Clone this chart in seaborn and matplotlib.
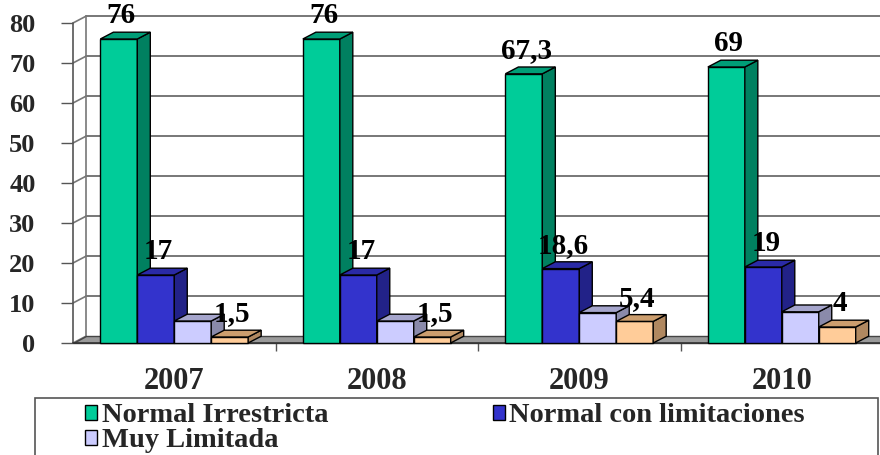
import numpy as np
import pandas as pd
import matplotlib
matplotlib.use("Agg")
import matplotlib.pyplot as plt
import seaborn as sns
from matplotlib.patches import Polygon, Rectangle, Patch

# Data
years = ["2007", "2008", "2009", "2010"]
series = ["Normal Irrestricta", "Normal con limitaciones", "Muy Limitada", "Limitada"]
normal_irrestricta = [76, 76, 67.3, 69]
normal_limitaciones = [17, 17, 18.6, 19]
muy_limitada = [5.5, 5.5, 7.6, 7.8]
limitada = [1.5, 1.5, 5.4, 4]
labelled = [True, True, False, True]

front = ["#00CC99", "#3333CC", "#CCCCFF", "#FFCC99"]
side = ["#008060", "#222288", "#8A8AAA", "#B08860"]
top = ["#009E77", "#2A2AA6", "#A5A5CC", "#CC9E6E"]

df = pd.DataFrame({
    "year": np.repeat(years, 4),
    "series": series * 4,
    "value": np.ravel(np.column_stack([normal_irrestricta, normal_limitaciones,
                                        muy_limitada, limitada])),
})

sns.set_theme(style="white")
plt.rcParams["font.family"] = ["Liberation Serif", "DejaVu Serif"]
plt.rcParams["font.weight"] = "bold"

fig = plt.figure(figsize=(8.8, 4.55), dpi=100)
ax = fig.add_axes([73 / 880, 112 / 455, 807 / 880, 320 / 455])

sns.barplot(data=df, x="year", y="value", hue="series", hue_order=series,
            palette=front, width=0.73, gap=0, edgecolor="black", linewidth=1,
            saturation=1, legend=False, ax=ax)

xmin, xmax = -0.5, 3.485
ax.set_xlim(xmin, xmax)
ax.set_ylim(0, 80)
dx, dy = 13 / 202.5, 1.7  # depth of the 3D effect, in data units

# back wall, floor and left wall
for v in range(10, 90, 10):
    ax.plot([xmin + dx, xmax], [v + dy, v + dy], color="#777777", lw=1.4,
            zorder=1, clip_on=False)
for v in range(0, 90, 10):
    ax.plot([xmin, xmin + dx], [v, v + dy], color="#777777", lw=1.2,
            zorder=1, clip_on=False)
ax.plot([xmin + dx, xmin + dx], [dy, 80 + dy], color="#777777", lw=1.2,
        zorder=1, clip_on=False)
ax.plot([xmin, xmin], [0, 80], color="#555555", lw=1.2, zorder=1, clip_on=False)
ax.add_patch(Polygon([(xmin, 0), (xmax + 0.1, 0), (xmax + 0.1, dy), (xmin + dx, dy)],
                     closed=True, facecolor="#9a9a9a", edgecolor="#444444",
                     lw=1, zorder=1.5, clip_on=False))
ax.plot([xmin, xmax], [0, 0], color="#333333", lw=1.2, zorder=1.6, clip_on=False)

# 3D sides, tops and value labels
for k, cont in enumerate(ax.containers):
    for p in cont.patches:
        x0, w, h = p.get_x(), p.get_width(), p.get_height()
        p.set_zorder(3 + 2 * k)
        p.set_clip_on(False)
        ax.add_patch(Polygon([(x0 + w, 0), (x0 + w + dx, dy), (x0 + w + dx, h + dy), (x0 + w, h)],
                             closed=True, facecolor=side[k], edgecolor="black",
                             lw=1, zorder=3.5 + 2 * k, clip_on=False))
        ax.add_patch(Polygon([(x0, h), (x0 + dx, h + dy), (x0 + w + dx, h + dy), (x0 + w, h)],
                             closed=True, facecolor=top[k], edgecolor="black",
                             lw=1, zorder=3.5 + 2 * k, clip_on=False))
        if labelled[k]:
            txt = f"{h:g}".replace(".", ",")
            ax.text(x0 + w / 2 + dx * 0.2, h + dy + 0.7, txt, ha="center", va="bottom",
                    fontsize=21, fontweight="bold", color="black", zorder=20,
                    clip_on=False)

ax.set_xlabel("")
ax.set_ylabel("")
ax.set_yticks(range(0, 90, 10))
ax.set_yticklabels([str(v) for v in range(0, 90, 10)], fontsize=19, fontweight="bold")
ax.set_xticks(range(4))
ax.set_xticklabels(years, fontsize=22, fontweight="bold")
ax.set_xticks(np.arange(0.5, 3.5, 1), minor=True)
ax.tick_params(axis="y", which="major", length=9, width=1, color="#555555",
               pad=18, left=True)
ax.tick_params(axis="x", which="major", length=0, pad=17)
ax.tick_params(axis="x", which="minor", length=6, width=1, color="#555555", bottom=True)
for s in ax.spines.values():
    s.set_visible(False)
ax.set_facecolor("white")

# legend
fig.add_artist(Rectangle((35 / 880, -0.2), 843 / 880, 0.2 + 57 / 455,
                         transform=fig.transFigure, facecolor="white",
                         edgecolor="#555555", lw=1.2))
handles = [Patch(facecolor=front[i], edgecolor="black", lw=1) for i in range(3)]
fig.legend(handles[:1] + handles[2:3] + handles[1:2],
           [series[0], series[2], series[1]],
           loc="upper left", bbox_to_anchor=(74 / 880, 1 - 392 / 455), ncol=2,
           frameon=False, prop={"size": 20.5, "weight": "bold"},
           handlelength=0.42, handleheight=0.42, handletextpad=0.15,
           columnspacing=5.8, labelspacing=0.0, borderaxespad=0)

fig.savefig("out.png", dpi=100)
